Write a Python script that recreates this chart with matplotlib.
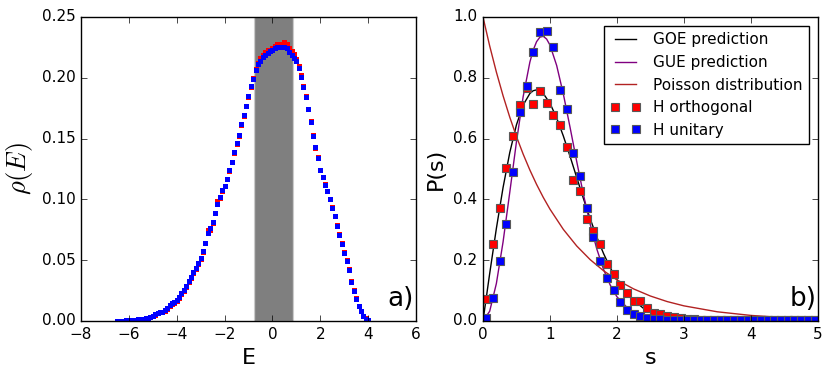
import numpy as np
import matplotlib
matplotlib.use('Agg')
import matplotlib.pyplot as plt

# ---- panel a) density of states ----
energy = [round(-6.5 + 0.1 * i, 1) for i in range(106)]
rho_unitary = [
    0.0003, 0.0003, 0.0004, 0.0004, 0.0005, 0.0006, 0.0007, 0.0009, 0.0011, 0.0013,
    0.0016, 0.0019, 0.0024, 0.0027, 0.0032, 0.0042, 0.0058, 0.0068, 0.0074, 0.0078,
    0.0088, 0.0108, 0.0132, 0.0145, 0.0155, 0.0172, 0.0200, 0.0228, 0.0258, 0.0288,
    0.0328, 0.0360, 0.0405, 0.0437, 0.0475, 0.0518, 0.0578, 0.0645, 0.0725, 0.0765,
    0.0815, 0.0890, 0.0958, 0.1020, 0.1075, 0.1110, 0.1170, 0.1240, 0.1310, 0.1390,
    0.1460, 0.1530, 0.1620, 0.1690, 0.1770, 0.1850, 0.1930, 0.1990, 0.2065, 0.2110,
    0.2140, 0.2168, 0.2190, 0.2205, 0.2220, 0.2232, 0.2244, 0.2250, 0.2253, 0.2255,
    0.2256, 0.2245, 0.2212, 0.2188, 0.2165, 0.2135, 0.2080, 0.2005, 0.1925, 0.1840,
    0.1740, 0.1640, 0.1520, 0.1430, 0.1340, 0.1240, 0.1180, 0.1120, 0.1070, 0.1000,
    0.0930, 0.0860, 0.0780, 0.0710, 0.0630, 0.0560, 0.0490, 0.0420, 0.0320, 0.0250,
    0.0180, 0.0120, 0.0080, 0.0040, 0.0020, 0.0010,
]
rho_orthogonal = [
    0.0002, 0.0003, 0.0003, 0.0004, 0.0005, 0.0005, 0.0007, 0.0008, 0.0010, 0.0012,
    0.0015, 0.0018, 0.0022, 0.0026, 0.0030, 0.0038, 0.0052, 0.0064, 0.0070, 0.0076,
    0.0084, 0.0100, 0.0125, 0.0140, 0.0150, 0.0165, 0.0190, 0.0218, 0.0250, 0.0280,
    0.0318, 0.0352, 0.0395, 0.0430, 0.0468, 0.0510, 0.0570, 0.0640, 0.0745, 0.0750,
    0.0808, 0.0885, 0.0990, 0.1015, 0.1068, 0.1110, 0.1165, 0.1232, 0.1305, 0.1382,
    0.1455, 0.1525, 0.1612, 0.1685, 0.1768, 0.1845, 0.1925, 0.1995, 0.2075, 0.2125,
    0.2165, 0.2190, 0.2215, 0.2225, 0.2230, 0.2245, 0.2265, 0.2280, 0.2272, 0.2280,
    0.2290, 0.2275, 0.2245, 0.2220, 0.2195, 0.2155, 0.2095, 0.2020, 0.1935, 0.1850,
    0.1745, 0.1645, 0.1530, 0.1425, 0.1345, 0.1245, 0.1185, 0.1125, 0.1065, 0.1005,
    0.0935, 0.0865, 0.0790, 0.0715, 0.0640, 0.0565, 0.0500, 0.0430, 0.0330, 0.0255,
    0.0185, 0.0125, 0.0085, 0.0045, 0.0025, 0.0010,
]
window = (-0.72, 0.85)

# ---- panel b) level spacing distribution ----
s_bins = [round(0.05 + 0.1 * i, 2) for i in range(50)]
p_orthogonal = [
    0.073, 0.252, 0.373, 0.504, 0.609, 0.709, 0.765, 0.714, 0.758, 0.718,
    0.678, 0.646, 0.572, 0.463, 0.429, 0.336, 0.296, 0.253, 0.186, 0.154,
    0.120, 0.092, 0.065, 0.065, 0.044, 0.026, 0.024, 0.015, 0.013, 0.011,
    0.008, 0.006, 0.004, 0.003, 0.003, 0.002, 0.002, 0.002, 0.002, 0.002,
    0.002, 0.002, 0.002, 0.002, 0.002, 0.002, 0.002, 0.002, 0.002, 0.002,
]
p_unitary = [
    0.010, 0.076, 0.197, 0.319, 0.490, 0.688, 0.772, 0.885, 0.951, 0.953,
    0.901, 0.761, 0.696, 0.553, 0.477, 0.370, 0.276, 0.197, 0.140, 0.101,
    0.064, 0.035, 0.023, 0.016, 0.010, 0.007, 0.005, 0.004, 0.003, 0.003,
    0.003, 0.003, 0.003, 0.003, 0.003, 0.003, 0.003, 0.003, 0.003, 0.003,
    0.003, 0.003, 0.003, 0.003, 0.003, 0.003, 0.003, 0.003, 0.003, 0.003,
]

# prediction curves
s_goe = [0, 0.1, 0.2, 0.3, 0.4, 0.5, 0.6, 0.7, 0.75, 0.8, 0.85, 0.9, 1.0, 1.1, 1.2, 1.3,
         1.4, 1.5, 1.6, 1.7, 1.8, 1.9, 2.0, 2.2, 2.4, 2.6, 2.8, 3.0, 3.5, 4.0, 5.0]
p_goe = [0, 0.1559, 0.3044, 0.4391, 0.5541, 0.6454, 0.7103, 0.7483, 0.7574, 0.7602, 0.7570,
         0.7483, 0.7162, 0.6680, 0.6083, 0.5416, 0.4718, 0.4025, 0.3366, 0.2759, 0.2219,
         0.1752, 0.1358, 0.0772, 0.0409, 0.0202, 0.0093, 0.0040, 0.0004, 0.0, 0.0]
s_gue = [0, 0.1, 0.2, 0.3, 0.4, 0.5, 0.6, 0.7, 0.75, 0.8, 0.85, 0.9, 0.95, 1.0, 1.1, 1.2,
         1.3, 1.4, 1.5, 1.6, 1.7, 1.8, 1.9, 2.0, 2.2, 2.4, 2.6, 2.8, 3.0, 4.0, 5.0]
p_gue = [0, 0.0320, 0.1233, 0.2602, 0.4232, 0.5896, 0.7380, 0.8514, 0.8911, 0.9186, 0.9337,
         0.9364, 0.9274, 0.9076, 0.8405, 0.7464, 0.6371, 0.5240, 0.4158, 0.3188, 0.2364,
         0.1697, 0.1180, 0.0797, 0.0330, 0.0122, 0.0040, 0.0012, 0.0003, 0.0, 0.0]
s_poisson = [0, 0.1, 0.2, 0.3, 0.4, 0.5, 0.6, 0.7, 0.8, 0.9, 1.0, 1.2, 1.4, 1.6, 1.8, 2.0,
             2.25, 2.5, 2.75, 3.0, 3.5, 4.0, 4.5, 5.0]
p_poisson = [1.0, 0.9048, 0.8187, 0.7408, 0.6703, 0.6065, 0.5488, 0.4966, 0.4493, 0.4066,
             0.3679, 0.3012, 0.2466, 0.2019, 0.1653, 0.1353, 0.1054, 0.0821, 0.0639, 0.0498,
             0.0302, 0.0183, 0.0111, 0.0067]

plt.style.use('classic')
plt.rcParams['figure.facecolor'] = 'white'
plt.rcParams['savefig.facecolor'] = 'white'

fig = plt.figure(figsize=(8.31, 3.81), dpi=100)
ax1 = fig.add_axes([0.0975, 0.1575, 0.403, 0.798])
ax2 = fig.add_axes([0.5812, 0.1575, 0.403, 0.798])

# a)
ax1.axvspan(window[0], window[1], color='k', alpha=0.5, lw=1.5, ec='0.6')
ax1.plot(energy, rho_orthogonal, 's', color='r', ms=3.6, mew=0)
ax1.plot(energy, rho_unitary, 's', color='b', ms=3.6, mew=0)
ax1.set_xlim(-8, 6)
ax1.set_ylim(0, 0.25)
ax1.set_yticks([0, 0.05, 0.10, 0.15, 0.20, 0.25])
ax1.set_yticklabels(['0.00', '0.05', '0.10', '0.15', '0.20', '0.25'])
ax1.set_xlabel('E', fontsize=16)
ax1.set_ylabel(r'$\rho(E)$', fontsize=19)
ax1.text(0.995, 0.03, 'a)', transform=ax1.transAxes, ha='right', va='bottom', fontsize=19)
ax1.tick_params(labelsize=11)

# b)
ax2.plot(s_goe, p_goe, color='k', lw=1, label='GOE prediction')
ax2.plot(s_gue, p_gue, color='purple', lw=1, label='GUE prediction')
ax2.plot(s_poisson, p_poisson, color='#b22222', lw=1, label='Poisson distribution')
ax2.plot(s_bins, p_orthogonal, 's', color='r', ms=5.2, mec='0.35', mew=0.8,
         label='H orthogonal')
ax2.plot(s_bins, p_unitary, 's', color='b', ms=5.2, mec='0.35', mew=0.8,
         label='H unitary')
ax2.set_xlim(0, 5)
ax2.set_ylim(0, 1.0)
ax2.set_xlabel('s', fontsize=16)
ax2.set_ylabel('P(s)', fontsize=16)
ax2.text(0.995, 0.03, 'b)', transform=ax2.transAxes, ha='right', va='bottom', fontsize=19)
ax2.tick_params(labelsize=11)
ax2.legend(loc='upper right', fontsize=11, numpoints=2, borderaxespad=0.6)

fig.savefig('out.png', dpi=100)
